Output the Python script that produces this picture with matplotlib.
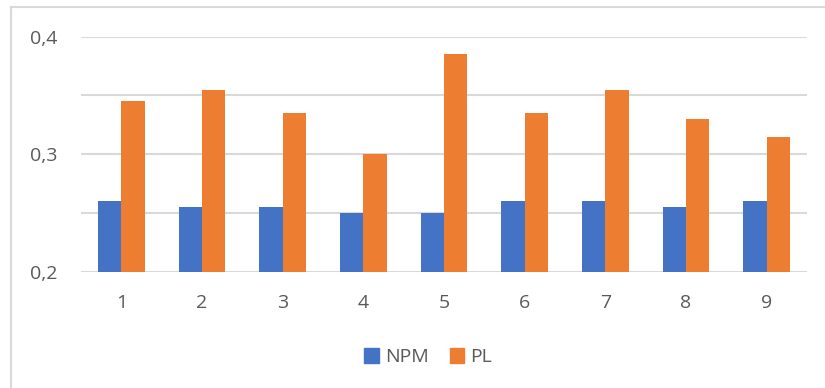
"""
Grouped bar chart: NPM vs PL per run.
"""

import numpy as np
import matplotlib.pyplot as plt
from matplotlib.patches import Patch
from matplotlib.ticker import FixedLocator, FuncFormatter

plt.rcParams["font.family"] = ["Open Sans", "DejaVu Sans"]

# --- Data ---
runs = ["1", "2", "3", "4", "5", "6", "7", "8", "9"]
npm = [0.26, 0.255, 0.255, 0.25, 0.25, 0.26, 0.26, 0.255, 0.26]
pl = [0.345, 0.355, 0.335, 0.30, 0.385, 0.335, 0.355, 0.33, 0.315]

blue = "#4472C4"
orange = "#ED7D31"
text_grey = "#595959"
grid_grey = "#D9D9D9"

# --- Figure ---
fig = plt.figure(figsize=(8.25, 3.88), dpi=100)
ax = fig.add_axes([0.0982, 0.2997, 0.8800, 0.6057])

x = np.arange(len(runs))
w = 0.29
ax.bar(x - w / 2, npm, width=w, color=blue, bottom=0, zorder=3)
ax.bar(x + w / 2, pl, width=w, color=orange, bottom=0, zorder=3)

ax.set_xlim(-0.5, len(runs) - 0.5)
ax.set_ylim(0.2, 0.4)

ax.set_xticks(x)
ax.set_xticklabels(runs)
ax.yaxis.set_major_locator(FixedLocator([0.2, 0.3, 0.4]))
ax.yaxis.set_minor_locator(FixedLocator([0.25, 0.35]))
ax.yaxis.set_major_formatter(FuncFormatter(lambda v, _: f"{v:.1f}".replace(".", ",")))

ax.grid(axis="y", which="both", color=grid_grey, lw=1.5, zorder=0)
ax.tick_params(axis="both", which="both", length=0, colors=text_grey, labelsize=14)
ax.tick_params(axis="y", pad=17)
ax.tick_params(axis="x", pad=16)
for side in ax.spines.values():
    side.set_visible(False)

# --- Legend ---
handles = [Patch(color=blue, label="NPM"), Patch(color=orange, label="PL")]
fig.legend(handles=handles, loc="center", bbox_to_anchor=(0.519, 0.079), ncol=2,
           frameon=False, fontsize=14, labelcolor=text_grey,
           handlelength=0.75, handleheight=0.75, handletextpad=0.3, columnspacing=1.1)

# --- Chart border (left and top edges) ---
fig.add_artist(plt.Line2D([11 / 825, 11 / 825], [0, 1 - 7 / 388],
                          transform=fig.transFigure, color=grid_grey, lw=1.5))
fig.add_artist(plt.Line2D([11 / 825, 1], [1 - 7 / 388, 1 - 7 / 388],
                          transform=fig.transFigure, color=grid_grey, lw=1.5))

fig.savefig("out.png", dpi=100)
